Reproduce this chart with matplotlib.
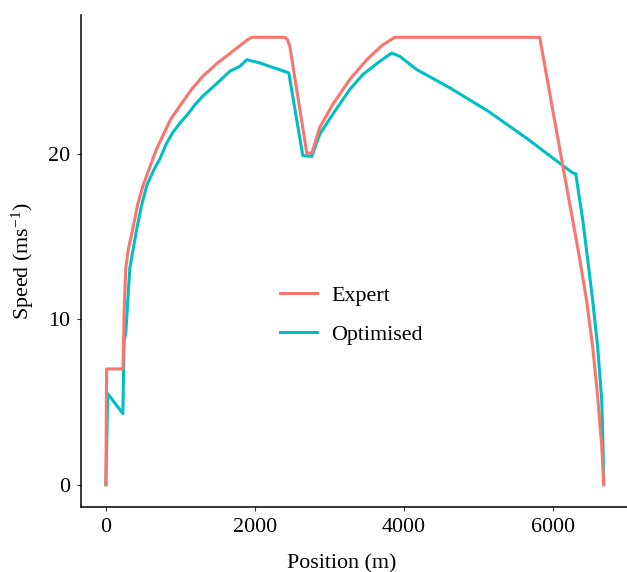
import matplotlib
matplotlib.use("Agg")
import matplotlib.pyplot as plt

# Expert driver speed profile
expert_pos = [0, 10, 230, 245, 268, 300, 349, 430, 500, 590, 680, 765, 870, 993,
              1150, 1302, 1500, 1758, 1900, 1960, 2403, 2440, 2470, 2698, 2765,
              2872, 3047, 3275, 3503, 3718, 3879, 5825, 6134, 6268, 6360, 6456,
              6537, 6604, 6658, 6685]
expert_speed = [0, 7, 7, 10.5, 13.1, 14.2, 15.2, 17.0, 18.1, 19.2, 20.3, 21.1, 22.1, 22.9,
                23.9, 24.7, 25.5, 26.4, 26.9, 27.05, 27.05, 26.9, 26.5, 20.05, 20.05,
                21.6, 23.0, 24.5, 25.7, 26.6, 27.05, 27.05, 19.3, 16.0, 13.7, 11.1,
                8.3, 5.3, 2.3, 0]

# Optimised speed profile
opt_pos = [0, 25, 228, 245, 268, 322, 416, 480, 550, 640, 725, 810, 899, 1000, 1100,
           1200, 1302, 1500, 1664, 1800, 1893, 2067, 2456, 2644, 2765, 2872, 3047,
           3275, 3450, 3678, 3839, 3946, 4174, 4617, 5128, 5664, 6134, 6268, 6309,
           6403, 6470, 6537, 6604, 6658, 6675, 6685]
opt_speed = [0, 5.5, 4.3, 8.7, 9.2, 13.1, 15.5, 16.9, 18.1, 19.0, 19.7, 20.6, 21.3, 21.9, 22.4,
             23.0, 23.5, 24.3, 25.0, 25.3, 25.7, 25.5, 24.9, 19.9, 19.85, 21.2, 22.4,
             23.9, 24.8, 25.6, 26.1, 25.9, 25.1, 24.0, 22.6, 20.9, 19.3, 18.85, 18.8,
             16.0, 13.6, 11.1, 8.3, 5.1, 2.3, 0]

x_ticks = [0, 2000, 4000, 6000]
y_ticks = [0, 10, 20]

plt.rcParams['font.family'] = ['Liberation Serif', 'DejaVu Serif']
plt.rcParams['mathtext.fontset'] = 'custom'
plt.rcParams['mathtext.rm'] = 'Liberation Serif'
plt.rcParams['mathtext.default'] = 'regular'

fs = 15.8
fig = plt.figure(figsize=(6.27, 5.72), dpi=100)
ax = fig.add_axes([81 / 627, 1 - 507 / 572, 548 / 627, 492 / 572])

ax.plot(opt_pos, opt_speed, color='#00BFC4', lw=2.2, label='Optimised', zorder=2)
ax.plot(expert_pos, expert_speed, color='#F8766D', lw=2.2, label='Expert', zorder=3)

ax.set_xlim(-334, 7024)
ax.set_ylim(-1.35, 28.4)
ax.set_xticks(x_ticks)
ax.set_yticks(y_ticks)

for side in ['top', 'right']:
    ax.spines[side].set_visible(False)
for side in ['left', 'bottom']:
    ax.spines[side].set_linewidth(1.1)
ax.tick_params(length=3, width=0.8, color='#333333', pad=5, labelsize=fs)

ax.set_xlabel('Position (m)', fontsize=fs)
ax.set_ylabel('Speed (ms$^{-1}$)', fontsize=fs)
ax.xaxis.set_label_coords(0.476, -0.095)
ax.yaxis.set_label_coords(-0.082, 0.5)

handles, labels = ax.get_legend_handles_labels()
ax.legend(handles[::-1], labels[::-1], loc='center left', bbox_to_anchor=(0.363, 0.39),
          frameon=False, fontsize=fs, handlelength=1.7, handletextpad=0.65,
          labelspacing=0.85, borderpad=0, borderaxespad=0)

fig.savefig('out.png', dpi=100)
